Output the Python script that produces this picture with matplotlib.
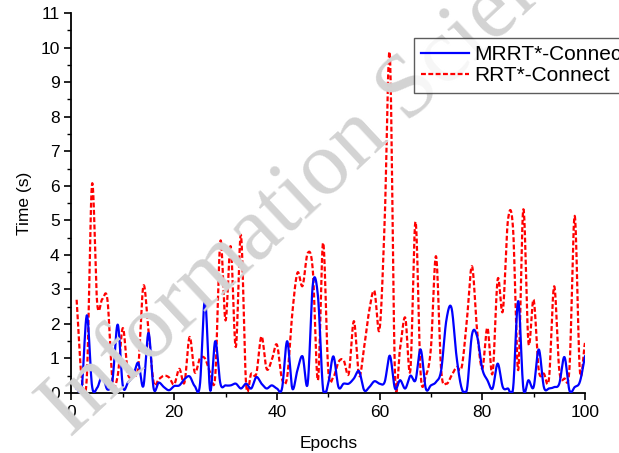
# plot_time_epochs.py - planning time per epoch, MRRT*-Connect vs RRT*-Connect

import numpy as np
import matplotlib
matplotlib.use("Agg")
import matplotlib.pyplot as plt
from matplotlib.ticker import MultipleLocator

OUTPUT = "out.png"

epochs = np.arange(1, 101)

mrrt_connect = [
    0.13, 0.17, 2.25, 0.20, 0.15, 0.50, 0.10, 0.40, 1.98, 0.20,
    0.30, 0.50, 0.87, 0.20, 1.74, 0.13, 0.30, 0.17, 0.08, 0.20,
    0.22, 0.40, 0.48, 0.20, 0.22, 2.70, 0.08, 1.50, 0.27, 0.22,
    0.22, 0.27, 0.13, 0.27, 0.13, 0.46, 0.27, 0.13, 0.22, 0.13,
    0.13, 1.50, 0.13, 0.66, 1.06, 0.27, 3.14, 2.80, 0.10, 0.27,
    1.06, 0.17, 0.27, 0.27, 0.42, 0.63, 0.08, 0.17, 0.34, 0.27,
    0.32, 1.08, 0.13, 0.37, 0.13, 0.50, 0.37, 1.26, 0.13, 0.22,
    0.32, 0.66, 2.10, 2.47, 1.04, 0.13, 0.10, 1.69, 1.64, 0.70,
    0.37, 0.13, 0.85, 0.17, 0.13, 0.13, 2.66, 0.13, 0.37, 0.17,
    1.26, 0.17, 0.13, 0.17, 0.27, 1.04, 0.06, 0.17, 0.32, 1.06,
]

rrt_connect = [
    2.70, 0.40, 0.50, 6.05, 2.60, 2.72, 2.70, 0.35, 0.50, 1.88,
    0.55, 0.55, 0.75, 3.10, 1.80, 0.30, 0.40, 0.50, 0.45, 0.25,
    0.70, 0.30, 1.62, 0.60, 1.00, 1.00, 0.60, 0.50, 4.40, 2.10,
    4.25, 1.33, 4.58, 0.27, 0.56, 0.56, 1.64, 0.70, 0.95, 1.40,
    0.40, 0.46, 2.30, 3.48, 3.10, 4.05, 3.55, 0.37, 4.35, 0.66,
    0.46, 0.90, 0.95, 0.56, 2.08, 0.50, 1.33, 2.40, 2.95, 1.84,
    5.00, 9.80, 0.55, 1.30, 2.18, 0.66, 4.96, 0.55, 0.50, 1.30,
    3.96, 0.66, 0.27, 0.50, 0.75, 0.75, 2.10, 3.67, 1.80, 0.70,
    1.89, 0.56, 3.29, 2.37, 5.00, 4.75, 0.66, 5.32, 1.45, 2.70,
    0.66, 0.56, 0.42, 3.09, 0.66, 0.42, 0.75, 5.13, 0.66, 1.45,
]


def smooth_curve(x, y, steps=20):
    # Catmull-Rom spline through the points (Hermite segments)
    x = np.asarray(x, dtype=float)
    y = np.asarray(y, dtype=float)
    m = np.empty_like(y)
    m[1:-1] = (y[2:] - y[:-2]) / (x[2:] - x[:-2])
    m[0] = (y[1] - y[0]) / (x[1] - x[0])
    m[-1] = (y[-1] - y[-2]) / (x[-1] - x[-2])
    xs_all, ys_all = [], []
    t = np.linspace(0, 1, steps, endpoint=False)
    h00 = 2 * t**3 - 3 * t**2 + 1
    h10 = t**3 - 2 * t**2 + t
    h01 = -2 * t**3 + 3 * t**2
    h11 = t**3 - t**2
    for i in range(len(x) - 1):
        h = x[i + 1] - x[i]
        xs_all.append(x[i] + t * h)
        ys_all.append(h00 * y[i] + h10 * h * m[i] + h01 * y[i + 1] + h11 * h * m[i + 1])
    xs_all.append([x[-1]])
    ys_all.append([y[-1]])
    # times can't go negative, keep the spline undershoot above the axis
    return np.concatenate(xs_all), np.clip(np.concatenate(ys_all), 0.03, None)


plt.rcParams["font.family"] = ["Liberation Sans", "DejaVu Sans"]

fig = plt.figure(figsize=(6.19, 4.53), dpi=100)
ax = fig.add_axes([0.1155, 0.1325, 0.8295, 0.8385])

# watermark behind the curves
fig.text(328 / 619, 1 - 168 / 453, "Information Science", fontsize=66,
         color="#d3d3d3", family="Liberation Serif", rotation=43,
         rotation_mode="anchor", ha="center", va="center", zorder=0)
ax.patch.set_visible(False)

xs, ys = smooth_curve(epochs, mrrt_connect)
ax.plot(xs, ys, color="#0000ff", linewidth=1.6, label="MRRT*-Connect", zorder=3)
xs, ys = smooth_curve(epochs, rrt_connect)
ax.plot(xs, ys, color="#ff0000", linewidth=1.6, linestyle=(0, (2.2, 1.1)),
        label="RRT*-Connect", zorder=2)

ax.set_xlim(0, 100)
ax.set_ylim(0, 11)
ax.xaxis.set_major_locator(MultipleLocator(20))
ax.xaxis.set_minor_locator(MultipleLocator(10))
ax.yaxis.set_major_locator(MultipleLocator(1))
ax.yaxis.set_minor_locator(MultipleLocator(0.5))

for side in ("top", "right"):
    ax.spines[side].set_visible(False)
for side in ("left", "bottom"):
    ax.spines[side].set_linewidth(1.3)

ax.tick_params(which="major", direction="out", length=5, width=1.2, labelsize=12.5)
ax.tick_params(which="minor", direction="out", length=3, width=1.0)

ax.set_xlabel("Epochs", fontsize=12.5, labelpad=12)
ax.set_ylabel("Time (s)", fontsize=12.5, labelpad=6)

leg = fig.legend(loc="upper left", bbox_to_anchor=(414 / 619, 1 - 38 / 453),
                 borderaxespad=0, fontsize=15, frameon=True, fancybox=False,
                 edgecolor="#333333", handlelength=2.3, handletextpad=0.25,
                 borderpad=0.35, labelspacing=0.1)
leg.get_frame().set_linewidth(1.0)

fig.savefig(OUTPUT, dpi=100)
